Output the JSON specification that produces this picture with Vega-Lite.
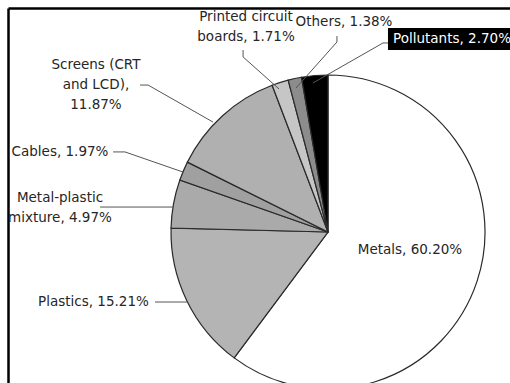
{
  "$schema": "https://vega.github.io/schema/vega-lite/v6.json",
  "width": 502,
  "height": 375,
  "autosize": {"type": "none"},
  "padding": {"left": 8, "top": 8, "right": 0, "bottom": 0},
  "background": "white",
  "config": {
    "view": {"stroke": null},
    "font": "DejaVu Sans",
    "axis": {"labels": false, "ticks": false, "grid": false, "domainColor": "#000", "domainWidth": 2.5, "zindex": 1}
  },
  "datasets": {
    "slices": [
      {"name": "Metals", "value": 60.20, "ord": 1},
      {"name": "Plastics", "value": 15.21, "ord": 2},
      {"name": "Metal-plastic mixture", "value": 4.97, "ord": 3},
      {"name": "Cables", "value": 1.97, "ord": 4},
      {"name": "Screens (CRT and LCD)", "value": 11.87, "ord": 5},
      {"name": "Printed circuit boards", "value": 1.71, "ord": 6},
      {"name": "Others", "value": 1.38, "ord": 7},
      {"name": "Pollutants", "value": 2.70, "ord": 8}
    ],
    "leaders": [
      {"k": "Plastics", "s": 1, "x": -1.102, "y": -0.446},
      {"k": "Plastics", "s": 2, "x": -0.895, "y": -0.446},
      {"k": "Metal-plastic", "s": 1, "x": -1.452, "y": 0.159},
      {"k": "Metal-plastic", "s": 2, "x": -0.987, "y": 0.159},
      {"k": "Cables", "s": 1, "x": -1.369, "y": 0.51},
      {"k": "Cables", "s": 2, "x": -1.293, "y": 0.51},
      {"k": "Cables", "s": 3, "x": -0.924, "y": 0.382},
      {"k": "Screens", "s": 1, "x": -1.197, "y": 0.936},
      {"k": "Screens", "s": 2, "x": -1.146, "y": 0.936},
      {"k": "Screens", "s": 3, "x": -0.732, "y": 0.70},
      {"k": "Printed", "s": 1, "x": -0.541, "y": 1.159},
      {"k": "Printed", "s": 2, "x": -0.541, "y": 1.115},
      {"k": "Printed", "s": 3, "x": -0.312, "y": 0.911},
      {"k": "Others", "s": 1, "x": 0.057, "y": 1.248},
      {"k": "Others", "s": 2, "x": 0.057, "y": 1.21},
      {"k": "Others", "s": 3, "x": -0.204, "y": 0.917},
      {"k": "Pollutants", "s": 1, "x": 0.382, "y": 1.204},
      {"k": "Pollutants", "s": 2, "x": 0.35, "y": 1.204},
      {"k": "Pollutants", "s": 3, "x": -0.096, "y": 0.949}
    ],
    "boxes": [
      {"k": "Pollutants", "x": 0.382, "x2": 1.1592, "y": 1.159, "y2": 1.299}
    ],
    "labels": [
      {"k": "Metals", "text": "Metals, 60.20%", "x": 0.522, "y": -0.115},
      {"k": "Plastics", "text": "Plastics, 15.21%", "x": -1.494, "y": -0.446},
      {"k": "Metal-plastic", "text": "Metal-plastic\nmixture, 4.97%", "x": -1.707, "y": 0.217},
      {"k": "Cables", "text": "Cables, 1.97%", "x": -1.707, "y": 0.51},
      {"k": "Screens", "text": "Screens (CRT\nand LCD),\n11.87%", "x": -1.478, "y": 1.064},
      {"k": "Printed", "text": "Printed circuit\nboards, 1.71%", "x": -0.522, "y": 1.369},
      {"k": "Others", "text": "Others, 1.38%", "x": 0.102, "y": 1.34},
      {"k": "Pollutants", "text": "Pollutants, 2.70%", "x": 0.79, "y": 1.229}
    ]
  },
  "layer": [
    {
      "data": {"name": "slices"},
      "mark": {"type": "arc", "outerRadius": 157, "stroke": "#2a2a2a", "strokeWidth": 1.2},
      "encoding": {
        "theta": {"field": "value", "type": "quantitative", "stack": true},
        "order": {"field": "ord", "type": "quantitative"},
        "color": {
          "field": "name", "type": "nominal", "legend": null,
          "scale": {
            "domain": ["Metals", "Plastics", "Metal-plastic mixture", "Cables", "Screens (CRT and LCD)", "Printed circuit boards", "Others", "Pollutants"],
            "range": ["#ffffff", "#b4b4b4", "#aaaaaa", "#a0a0a0", "#b0b0b0", "#c6c6c6", "#8c8c8c", "#000000"]
          }
        },
        "x": {"datum": 0, "type": "quantitative", "scale": {"domain": [-2.0382, 1.1592], "nice": false, "zero": false}, "axis": {"orient": "top", "title": null}},
        "y": {"datum": 0, "type": "quantitative", "scale": {"domain": [-0.9618, 1.4268], "nice": false, "zero": false}, "axis": {"orient": "left", "title": null}}
      }
    },
    {
      "data": {"name": "leaders"},
      "mark": {"type": "line", "color": "#555555", "strokeWidth": 1},
      "encoding": {
        "x": {"field": "x", "type": "quantitative", "scale": {"domain": [-2.0382, 1.1592], "nice": false, "zero": false}, "axis": {"orient": "top", "title": null}},
        "y": {"field": "y", "type": "quantitative", "scale": {"domain": [-0.9618, 1.4268], "nice": false, "zero": false}, "axis": {"orient": "left", "title": null}},
        "detail": {"field": "k", "type": "nominal"},
        "order": {"field": "s", "type": "quantitative"}
      }
    },
    {
      "data": {"name": "boxes"},
      "mark": {"type": "rect", "color": "#000000"},
      "encoding": {
        "x": {"field": "x", "type": "quantitative", "scale": {"domain": [-2.0382, 1.1592], "nice": false, "zero": false}, "axis": {"orient": "top", "title": null}},
        "x2": {"field": "x2"},
        "y": {"field": "y", "type": "quantitative", "scale": {"domain": [-0.9618, 1.4268], "nice": false, "zero": false}, "axis": {"orient": "left", "title": null}},
        "y2": {"field": "y2"}
      }
    },
    {
      "data": {"name": "labels"},
      "mark": {"type": "text", "fontSize": 13.5, "lineBreak": "\n", "lineHeight": 20, "align": "center", "baseline": "middle"},
      "encoding": {
        "x": {"field": "x", "type": "quantitative", "scale": {"domain": [-2.0382, 1.1592], "nice": false, "zero": false}, "axis": {"orient": "top", "title": null}},
        "y": {"field": "y", "type": "quantitative", "scale": {"domain": [-0.9618, 1.4268], "nice": false, "zero": false}, "axis": {"orient": "left", "title": null}},
        "text": {"field": "text", "type": "nominal"},
        "color": {"condition": {"test": "datum.k === 'Pollutants'", "value": "#ffffff"}, "value": "#262626"}
      }
    }
  ]
}
